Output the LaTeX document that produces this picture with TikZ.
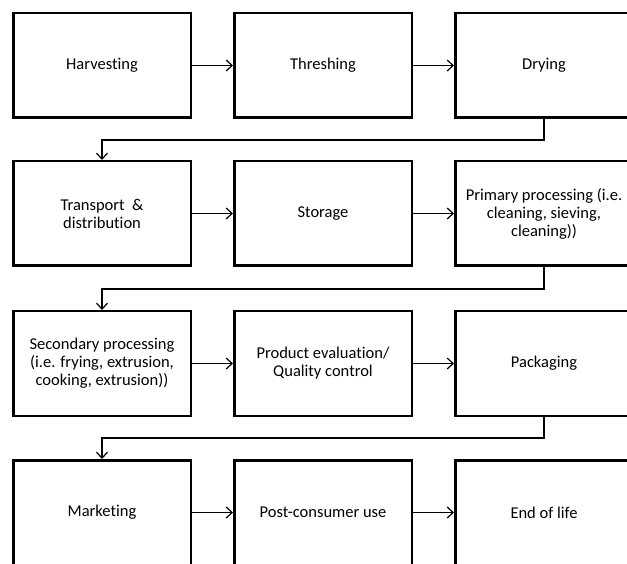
\documentclass[tikz,border=0pt]{standalone}
\usepackage{fontspec}
\setmainfont{Carlito}[Ligatures={NoCommon}]
\usetikzlibrary{arrows.meta}
\begin{document}
\begin{tikzpicture}[x=1pt,y=-1pt,
  stage/.style={draw, line width=2.5pt, minimum width=177.5pt, minimum height=104.5pt,
    inner sep=0pt, align=center, font=\fontsize{16.5}{18}\selectfont},
  flow/.style={line width=1.2pt, -{Straight Barb[length=6pt,width=11pt,line width=1.2pt]}}]
\useasboundingbox (0,0) rectangle (627,564);
\clip (0,0) rectangle (627,564);
\fill[white] (0,0) rectangle (627,564);
\node[stage] (harv) at (102,65.5) {Harvesting};
\node[stage] (thresh) at (323,65.5) {Threshing};
\node[stage] (dry) at (544,65.5) {Drying};
\node[stage] (trans) at (102,213.5) {Transport\ \ \&\\distribution};
\node[stage] (stor) at (323,213.5) {Storage};
\node[stage] (prim) at (544,213.5) {Primary processing (i.e.\\cleaning, sieving,\\cleaning))};
\node[stage] (sec) at (102,363.5) {Secondary processing\\(i.e. frying, extrusion,\\cooking, extrusion))};
\node[stage] (prod) at (323,363.5) {Product evaluation/\\Quality control};
\node[stage] (pack) at (544,363.5) {Packaging};
\node[stage] (mark) at (102,512.5) {Marketing};
\node[stage] (post) at (323,512.5) {Post-consumer use};
\node[stage] (end) at (544,512.5) {End of life};
\draw[flow] (harv.east) -- (thresh.west);
\draw[flow] (thresh.east) -- (dry.west);
\draw[flow] (trans.east) -- (stor.west);
\draw[flow] (stor.east) -- (prim.west);
\draw[flow] (sec.east) -- (prod.west);
\draw[flow] (prod.east) -- (pack.west);
\draw[flow] (mark.east) -- (post.west);
\draw[flow] (post.east) -- (end.west);
\coordinate (r1) at (0,140);
\coordinate (r2) at (0,289);
\coordinate (r3) at (0,438);
\draw[flow] (dry.south) -- (dry.south |- r1) -| (trans.north);
\draw[flow] (prim.south) -- (prim.south |- r2) -| (sec.north);
\draw[flow] (pack.south) -- (pack.south |- r3) -| (mark.north);
\end{tikzpicture}
\end{document}
